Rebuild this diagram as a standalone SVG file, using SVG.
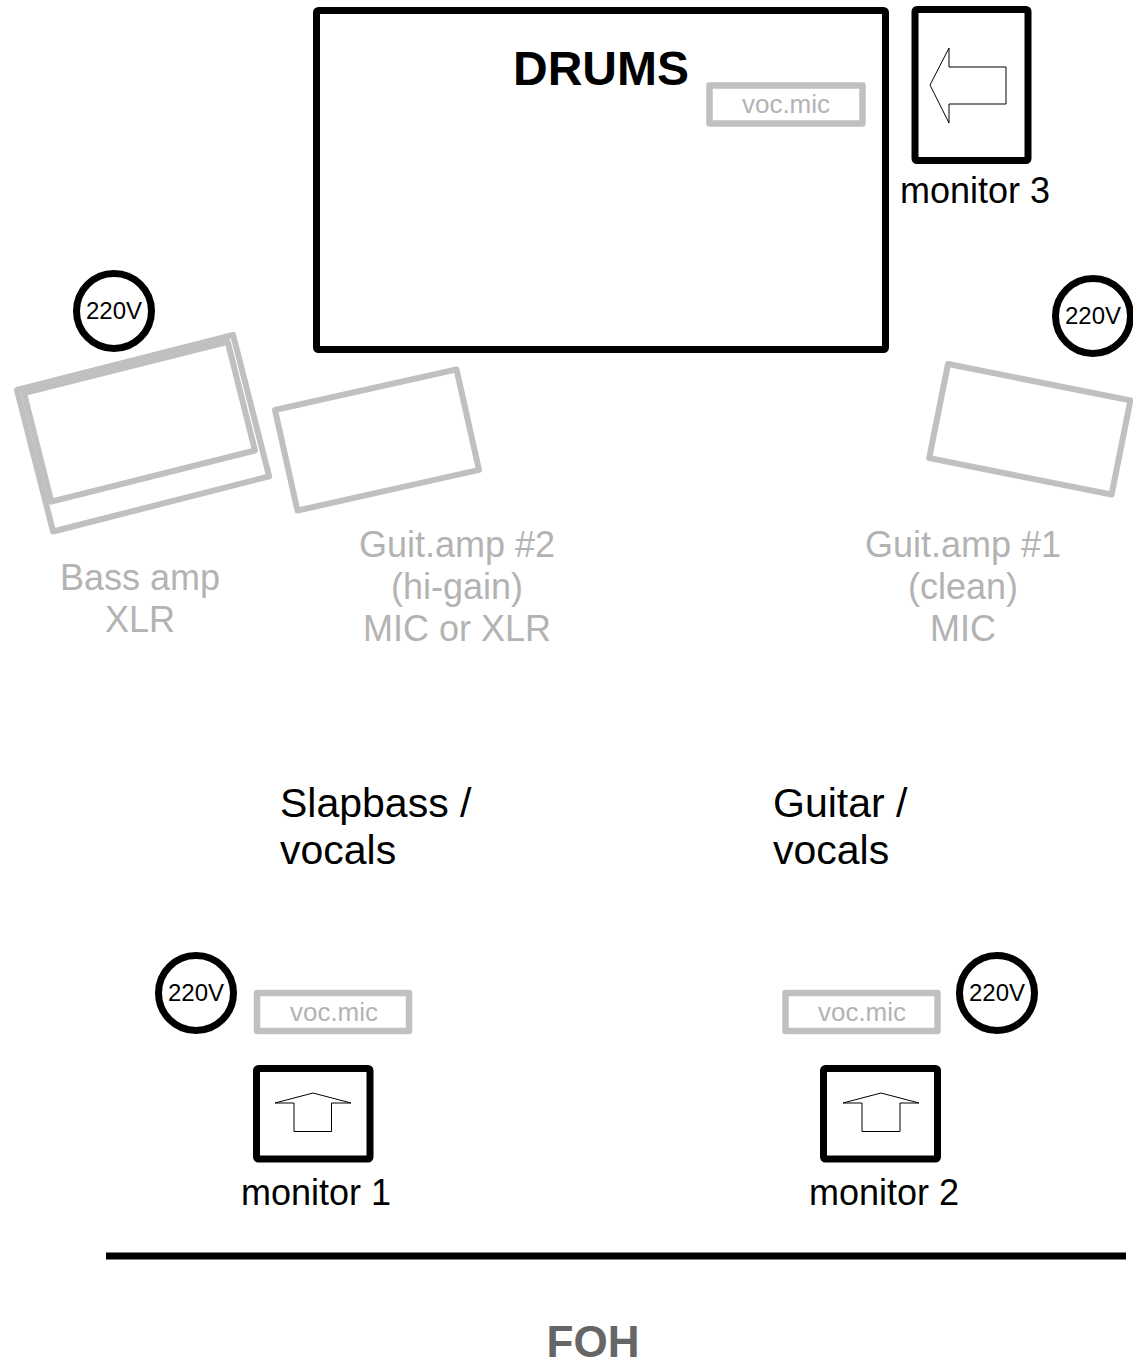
<svg xmlns="http://www.w3.org/2000/svg" width="1133" height="1364" viewBox="0 0 1133 1364">
<style>
.blk{fill:none;stroke:#000;stroke-width:7;stroke-linejoin:round}
.amp{fill:none;stroke:#c0c0c0;stroke-width:6;stroke-linejoin:round}
.mic{fill:#fff;stroke:#c0c0c0;stroke-width:6.5;stroke-linejoin:round}
.arr{fill:#fff;stroke:#000;stroke-width:1}
.pw{fill:#fff;stroke:#000;stroke-width:7}
text{font-family:"Liberation Sans",Arial,sans-serif}
.t24{font-size:24px;fill:#000;text-anchor:middle}
.mt{font-size:26px;fill:#b3b3b3;text-anchor:middle}
.gl{font-size:36px;fill:#b3b3b3;text-anchor:middle}
.ml{font-size:36px;fill:#000;text-anchor:middle}
.pl{font-size:41px;fill:#000}
</style>
<rect width="1133" height="1364" fill="#fff"/>
<g id="drums">
<rect class="blk" x="316.5" y="10.5" width="569" height="339" rx="2"/>
<text x="601" y="85" font-size="48" font-weight="bold" text-anchor="middle" fill="#000">DRUMS</text>
</g>
<g id="drums-mic">
<rect class="mic" x="709.5" y="85.5" width="153" height="38"/>
<text class="mt" x="786" y="113">voc.mic</text>
</g>
<g id="monitor3">
<rect class="blk" x="915" y="9.5" width="113" height="151" rx="2"/>
<polygon class="arr" points="930,85 949,48 949,67 1006,67 1006,104 949,104 949,123"/>
<text class="ml" x="975" y="203">monitor 3</text>
</g>
<g id="power-1">
<circle class="pw" cx="114" cy="311" r="37.5"/>
<text class="t24" x="114" y="319">220V</text>
</g>
<g id="power-2">
<circle class="pw" cx="1093" cy="316" r="37.5"/>
<text class="t24" x="1093" y="324">220V</text>
</g>
<g id="bass-amp">
<rect class="amp" x="0" y="0" width="223" height="146" transform="translate(17,390) rotate(-14.3)"/>
<rect class="amp" x="0" y="0" width="210" height="112" transform="translate(24,393) rotate(-14.1)"/>
<text class="gl" x="140" y="590">Bass amp</text>
<text class="gl" x="140" y="632">XLR</text>
</g>
<g id="guit-amp-2">
<rect class="amp" x="0" y="0" width="186" height="103" transform="translate(275,410) rotate(-12.6)"/>
<text class="gl" x="457" y="557">Guit.amp #2</text>
<text class="gl" x="457" y="599">(hi-gain)</text>
<text class="gl" x="457" y="641">MIC or XLR</text>
</g>
<g id="guit-amp-1">
<rect class="amp" x="0" y="0" width="186" height="96" transform="translate(948,364) rotate(11.3)"/>
<text class="gl" x="963" y="557">Guit.amp #1</text>
<text class="gl" x="963" y="599">(clean)</text>
<text class="gl" x="963" y="641">MIC</text>
</g>
<g id="slapbass">
<text class="pl" x="280" y="817">Slapbass /</text>
<text class="pl" x="280" y="864">vocals</text>
</g>
<g id="guitar">
<text class="pl" x="773" y="817">Guitar /</text>
<text class="pl" x="773" y="864">vocals</text>
</g>
<g id="power-3">
<circle class="pw" cx="196" cy="993" r="37.5"/>
<text class="t24" x="196" y="1001">220V</text>
</g>
<g id="mic-1">
<rect class="mic" x="257" y="993" width="152" height="38"/>
<text class="mt" x="334" y="1021">voc.mic</text>
</g>
<g id="monitor1">
<rect class="blk" x="256.5" y="1068.5" width="113.5" height="90.5" rx="2"/>
<polygon class="arr" points="275,1103 313,1093 351,1103 331.5,1103 331.5,1131.5 294,1131.5 294,1103"/>
<text class="ml" x="316" y="1205">monitor 1</text>
</g>
<g id="mic-2">
<rect class="mic" x="785.5" y="993" width="152" height="38"/>
<text class="mt" x="862" y="1021">voc.mic</text>
</g>
<g id="power-4">
<circle class="pw" cx="997" cy="993" r="37.5"/>
<text class="t24" x="997" y="1001">220V</text>
</g>
<g id="monitor2">
<rect class="blk" x="823.5" y="1068.5" width="114" height="90.5" rx="2"/>
<polygon class="arr" points="843,1103 881,1093 919,1103 900,1103 900,1131.5 862,1131.5 862,1103"/>
<text class="ml" x="884" y="1205">monitor 2</text>
</g>
<g id="stage-edge">
<line x1="106" y1="1256" x2="1126" y2="1256" stroke="#000" stroke-width="7"/>
</g>
<g id="foh">
<text x="593" y="1357" font-size="44" font-weight="bold" text-anchor="middle" fill="#666">FOH</text>
</g>
<g id="connectors"/>
</svg>
